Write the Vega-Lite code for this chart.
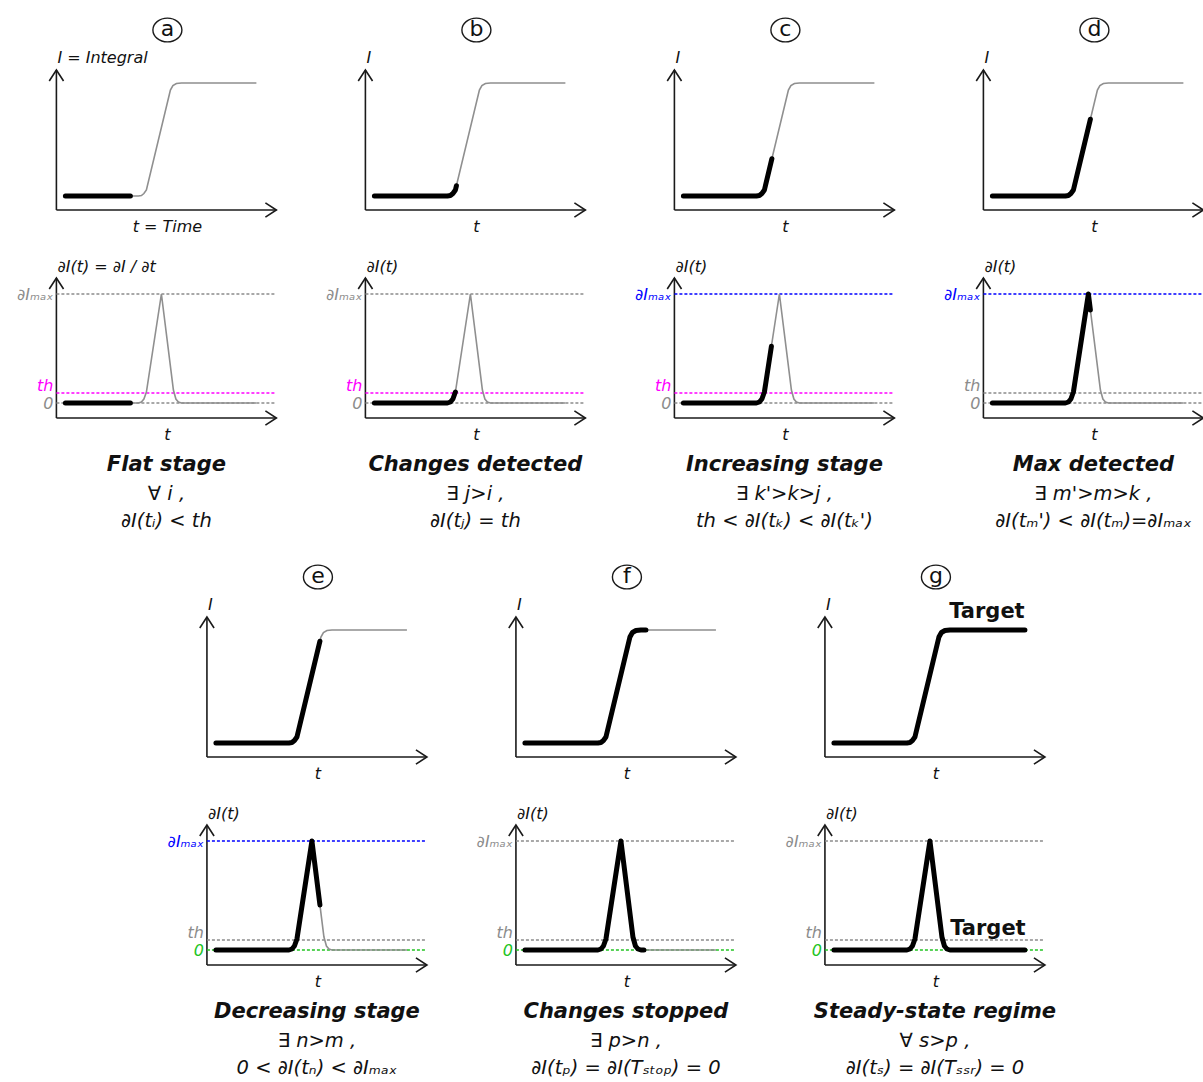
{
  "$schema": "https://vega.github.io/schema/vega-lite/v6.json",
  "padding": {"left": 17, "top": 15, "right": 0, "bottom": 0},
  "background": "white",
  "config": {"view": {"stroke": null}, "axis": {"disable": true}, "font": "DejaVu Sans", "text": {"font": "DejaVu Sans", "color": "#111111"}},
  "datasets": {
    "integralPlot": [
      {"panel":"a","kind":"frame"},{"panel":"b","kind":"frame"},{"panel":"c","kind":"frame"},{"panel":"d","kind":"frame"},{"panel":"e","kind":"frame"},{"panel":"f","kind":"frame"},{"panel":"g","kind":"frame"},
      {"panel":"a","kind":"label","role":"y","text":"I = Integral"},{"panel":"a","kind":"label","role":"x","text":"t = Time"},
      {"panel":"b","kind":"label","role":"y","text":"I"},{"panel":"b","kind":"label","role":"x","text":"t"},
      {"panel":"c","kind":"label","role":"y","text":"I"},{"panel":"c","kind":"label","role":"x","text":"t"},
      {"panel":"d","kind":"label","role":"y","text":"I"},{"panel":"d","kind":"label","role":"x","text":"t"},
      {"panel":"e","kind":"label","role":"y","text":"I"},{"panel":"e","kind":"label","role":"x","text":"t"},
      {"panel":"f","kind":"label","role":"y","text":"I"},{"panel":"f","kind":"label","role":"x","text":"t"},
      {"panel":"g","kind":"label","role":"y","text":"I"},{"panel":"g","kind":"label","role":"x","text":"t"},
      {"panel":"g","kind":"label","role":"target","text":"Target"},

      {"panel":"a","kind":"curve","trace":"full","t":0.9,"I":1.4},{"panel":"a","kind":"curve","trace":"full","t":8.2,"I":1.4},{"panel":"a","kind":"curve","trace":"full","t":8.5,"I":1.45},{"panel":"a","kind":"curve","trace":"full","t":8.75,"I":1.65},{"panel":"a","kind":"curve","trace":"full","t":9.0,"I":2.0},{"panel":"a","kind":"curve","trace":"full","t":11.4,"I":12.0},{"panel":"a","kind":"curve","trace":"full","t":11.65,"I":12.45},{"panel":"a","kind":"curve","trace":"full","t":12.0,"I":12.65},{"panel":"a","kind":"curve","trace":"full","t":12.5,"I":12.7},{"panel":"a","kind":"curve","trace":"full","t":20,"I":12.7},
      {"panel":"b","kind":"curve","trace":"full","t":0.9,"I":1.4},{"panel":"b","kind":"curve","trace":"full","t":8.2,"I":1.4},{"panel":"b","kind":"curve","trace":"full","t":8.5,"I":1.45},{"panel":"b","kind":"curve","trace":"full","t":8.75,"I":1.65},{"panel":"b","kind":"curve","trace":"full","t":9.0,"I":2.0},{"panel":"b","kind":"curve","trace":"full","t":11.4,"I":12.0},{"panel":"b","kind":"curve","trace":"full","t":11.65,"I":12.45},{"panel":"b","kind":"curve","trace":"full","t":12.0,"I":12.65},{"panel":"b","kind":"curve","trace":"full","t":12.5,"I":12.7},{"panel":"b","kind":"curve","trace":"full","t":20,"I":12.7},
      {"panel":"c","kind":"curve","trace":"full","t":0.9,"I":1.4},{"panel":"c","kind":"curve","trace":"full","t":8.2,"I":1.4},{"panel":"c","kind":"curve","trace":"full","t":8.5,"I":1.45},{"panel":"c","kind":"curve","trace":"full","t":8.75,"I":1.65},{"panel":"c","kind":"curve","trace":"full","t":9.0,"I":2.0},{"panel":"c","kind":"curve","trace":"full","t":11.4,"I":12.0},{"panel":"c","kind":"curve","trace":"full","t":11.65,"I":12.45},{"panel":"c","kind":"curve","trace":"full","t":12.0,"I":12.65},{"panel":"c","kind":"curve","trace":"full","t":12.5,"I":12.7},{"panel":"c","kind":"curve","trace":"full","t":20,"I":12.7},
      {"panel":"d","kind":"curve","trace":"full","t":0.9,"I":1.4},{"panel":"d","kind":"curve","trace":"full","t":8.2,"I":1.4},{"panel":"d","kind":"curve","trace":"full","t":8.5,"I":1.45},{"panel":"d","kind":"curve","trace":"full","t":8.75,"I":1.65},{"panel":"d","kind":"curve","trace":"full","t":9.0,"I":2.0},{"panel":"d","kind":"curve","trace":"full","t":11.4,"I":12.0},{"panel":"d","kind":"curve","trace":"full","t":11.65,"I":12.45},{"panel":"d","kind":"curve","trace":"full","t":12.0,"I":12.65},{"panel":"d","kind":"curve","trace":"full","t":12.5,"I":12.7},{"panel":"d","kind":"curve","trace":"full","t":20,"I":12.7},
      {"panel":"e","kind":"curve","trace":"full","t":0.9,"I":1.4},{"panel":"e","kind":"curve","trace":"full","t":8.2,"I":1.4},{"panel":"e","kind":"curve","trace":"full","t":8.5,"I":1.45},{"panel":"e","kind":"curve","trace":"full","t":8.75,"I":1.65},{"panel":"e","kind":"curve","trace":"full","t":9.0,"I":2.0},{"panel":"e","kind":"curve","trace":"full","t":11.4,"I":12.0},{"panel":"e","kind":"curve","trace":"full","t":11.65,"I":12.45},{"panel":"e","kind":"curve","trace":"full","t":12.0,"I":12.65},{"panel":"e","kind":"curve","trace":"full","t":12.5,"I":12.7},{"panel":"e","kind":"curve","trace":"full","t":20,"I":12.7},
      {"panel":"f","kind":"curve","trace":"full","t":0.9,"I":1.4},{"panel":"f","kind":"curve","trace":"full","t":8.2,"I":1.4},{"panel":"f","kind":"curve","trace":"full","t":8.5,"I":1.45},{"panel":"f","kind":"curve","trace":"full","t":8.75,"I":1.65},{"panel":"f","kind":"curve","trace":"full","t":9.0,"I":2.0},{"panel":"f","kind":"curve","trace":"full","t":11.4,"I":12.0},{"panel":"f","kind":"curve","trace":"full","t":11.65,"I":12.45},{"panel":"f","kind":"curve","trace":"full","t":12.0,"I":12.65},{"panel":"f","kind":"curve","trace":"full","t":12.5,"I":12.7},{"panel":"f","kind":"curve","trace":"full","t":20,"I":12.7},
      {"panel":"g","kind":"curve","trace":"full","t":0.9,"I":1.4},{"panel":"g","kind":"curve","trace":"full","t":8.2,"I":1.4},{"panel":"g","kind":"curve","trace":"full","t":8.5,"I":1.45},{"panel":"g","kind":"curve","trace":"full","t":8.75,"I":1.65},{"panel":"g","kind":"curve","trace":"full","t":9.0,"I":2.0},{"panel":"g","kind":"curve","trace":"full","t":11.4,"I":12.0},{"panel":"g","kind":"curve","trace":"full","t":11.65,"I":12.45},{"panel":"g","kind":"curve","trace":"full","t":12.0,"I":12.65},{"panel":"g","kind":"curve","trace":"full","t":12.5,"I":12.7},{"panel":"g","kind":"curve","trace":"full","t":20,"I":12.7},

      {"panel":"a","kind":"curve","trace":"observed","t":0.9,"I":1.4},{"panel":"a","kind":"curve","trace":"observed","t":7.4,"I":1.4},
      {"panel":"b","kind":"curve","trace":"observed","t":0.9,"I":1.4},{"panel":"b","kind":"curve","trace":"observed","t":8.2,"I":1.4},{"panel":"b","kind":"curve","trace":"observed","t":8.5,"I":1.45},{"panel":"b","kind":"curve","trace":"observed","t":8.75,"I":1.65},{"panel":"b","kind":"curve","trace":"observed","t":9.0,"I":2.0},{"panel":"b","kind":"curve","trace":"observed","t":9.1,"I":2.42},
      {"panel":"c","kind":"curve","trace":"observed","t":0.9,"I":1.4},{"panel":"c","kind":"curve","trace":"observed","t":8.2,"I":1.4},{"panel":"c","kind":"curve","trace":"observed","t":8.5,"I":1.45},{"panel":"c","kind":"curve","trace":"observed","t":8.75,"I":1.65},{"panel":"c","kind":"curve","trace":"observed","t":9.0,"I":2.0},{"panel":"c","kind":"curve","trace":"observed","t":9.75,"I":5.13},
      {"panel":"d","kind":"curve","trace":"observed","t":0.9,"I":1.4},{"panel":"d","kind":"curve","trace":"observed","t":8.2,"I":1.4},{"panel":"d","kind":"curve","trace":"observed","t":8.5,"I":1.45},{"panel":"d","kind":"curve","trace":"observed","t":8.75,"I":1.65},{"panel":"d","kind":"curve","trace":"observed","t":9.0,"I":2.0},{"panel":"d","kind":"curve","trace":"observed","t":10.7,"I":9.08},
      {"panel":"e","kind":"curve","trace":"observed","t":0.9,"I":1.4},{"panel":"e","kind":"curve","trace":"observed","t":8.2,"I":1.4},{"panel":"e","kind":"curve","trace":"observed","t":8.5,"I":1.45},{"panel":"e","kind":"curve","trace":"observed","t":8.75,"I":1.65},{"panel":"e","kind":"curve","trace":"observed","t":9.0,"I":2.0},{"panel":"e","kind":"curve","trace":"observed","t":11.3,"I":11.58},
      {"panel":"f","kind":"curve","trace":"observed","t":0.9,"I":1.4},{"panel":"f","kind":"curve","trace":"observed","t":8.2,"I":1.4},{"panel":"f","kind":"curve","trace":"observed","t":8.5,"I":1.45},{"panel":"f","kind":"curve","trace":"observed","t":8.75,"I":1.65},{"panel":"f","kind":"curve","trace":"observed","t":9.0,"I":2.0},{"panel":"f","kind":"curve","trace":"observed","t":11.4,"I":12.0},{"panel":"f","kind":"curve","trace":"observed","t":11.65,"I":12.45},{"panel":"f","kind":"curve","trace":"observed","t":12.0,"I":12.65},{"panel":"f","kind":"curve","trace":"observed","t":12.5,"I":12.7},{"panel":"f","kind":"curve","trace":"observed","t":13.0,"I":12.7},
      {"panel":"g","kind":"curve","trace":"observed","t":0.9,"I":1.4},{"panel":"g","kind":"curve","trace":"observed","t":8.2,"I":1.4},{"panel":"g","kind":"curve","trace":"observed","t":8.5,"I":1.45},{"panel":"g","kind":"curve","trace":"observed","t":8.75,"I":1.65},{"panel":"g","kind":"curve","trace":"observed","t":9.0,"I":2.0},{"panel":"g","kind":"curve","trace":"observed","t":11.4,"I":12.0},{"panel":"g","kind":"curve","trace":"observed","t":11.65,"I":12.45},{"panel":"g","kind":"curve","trace":"observed","t":12.0,"I":12.65},{"panel":"g","kind":"curve","trace":"observed","t":12.5,"I":12.7},{"panel":"g","kind":"curve","trace":"observed","t":20,"I":12.7}
    ],
    "derivativePlot": [
      {"panel":"a","kind":"frame"},{"panel":"b","kind":"frame"},{"panel":"c","kind":"frame"},{"panel":"d","kind":"frame"},{"panel":"e","kind":"frame"},{"panel":"f","kind":"frame"},{"panel":"g","kind":"frame"},
      {"panel":"a","kind":"label","role":"y","text":"∂I(t) = ∂I / ∂t"},{"panel":"a","kind":"label","role":"x","text":"t"},
      {"panel":"b","kind":"label","role":"y","text":"∂I(t)"},{"panel":"b","kind":"label","role":"x","text":"t"},
      {"panel":"c","kind":"label","role":"y","text":"∂I(t)"},{"panel":"c","kind":"label","role":"x","text":"t"},
      {"panel":"d","kind":"label","role":"y","text":"∂I(t)"},{"panel":"d","kind":"label","role":"x","text":"t"},
      {"panel":"e","kind":"label","role":"y","text":"∂I(t)"},{"panel":"e","kind":"label","role":"x","text":"t"},
      {"panel":"f","kind":"label","role":"y","text":"∂I(t)"},{"panel":"f","kind":"label","role":"x","text":"t"},
      {"panel":"g","kind":"label","role":"y","text":"∂I(t)"},{"panel":"g","kind":"label","role":"x","text":"t"},
      {"panel":"g","kind":"label","role":"target","text":"Target"},
      {"panel":"a","kind":"label","role":"c1","text":"Flat stage"},{"panel":"a","kind":"label","role":"c2","text":"∀ i ,"},{"panel":"a","kind":"label","role":"c3","text":"∂I(tᵢ) < th"},
      {"panel":"b","kind":"label","role":"c1","text":"Changes detected"},{"panel":"b","kind":"label","role":"c2","text":"∃ j>i ,"},{"panel":"b","kind":"label","role":"c3","text":"∂I(tⱼ) = th"},
      {"panel":"c","kind":"label","role":"c1","text":"Increasing stage"},{"panel":"c","kind":"label","role":"c2","text":"∃ k'>k>j ,"},{"panel":"c","kind":"label","role":"c3","text":"th < ∂I(tₖ) < ∂I(tₖ')"},
      {"panel":"d","kind":"label","role":"c1","text":"Max detected"},{"panel":"d","kind":"label","role":"c2","text":"∃ m'>m>k ,"},{"panel":"d","kind":"label","role":"c3","text":"∂I(tₘ') < ∂I(tₘ)=∂Iₘₐₓ"},
      {"panel":"e","kind":"label","role":"c1","text":"Decreasing stage"},{"panel":"e","kind":"label","role":"c2","text":"∃ n>m ,"},{"panel":"e","kind":"label","role":"c3","text":"0 < ∂I(tₙ) < ∂Iₘₐₓ"},
      {"panel":"f","kind":"label","role":"c1","text":"Changes stopped"},{"panel":"f","kind":"label","role":"c2","text":"∃ p>n ,"},{"panel":"f","kind":"label","role":"c3","text":"∂I(tₚ) = ∂I(Tₛₜₒₚ) = 0"},
      {"panel":"g","kind":"label","role":"c1","text":"Steady-state regime"},{"panel":"g","kind":"label","role":"c2","text":"∀ s>p ,"},{"panel":"g","kind":"label","role":"c3","text":"∂I(tₛ) = ∂I(Tₛₛᵣ) =  0"},

      {"panel":"a","kind":"ref","ref":"max","level":12.4,"highlight":"none","text":"∂Iₘₐₓ"},{"panel":"a","kind":"ref","ref":"th","level":2.5,"highlight":"th","text":"th"},{"panel":"a","kind":"ref","ref":"zero","level":1.5,"highlight":"none","text":"0"},
      {"panel":"b","kind":"ref","ref":"max","level":12.4,"highlight":"none","text":"∂Iₘₐₓ"},{"panel":"b","kind":"ref","ref":"th","level":2.5,"highlight":"th","text":"th"},{"panel":"b","kind":"ref","ref":"zero","level":1.5,"highlight":"none","text":"0"},
      {"panel":"c","kind":"ref","ref":"max","level":12.4,"highlight":"max","text":"∂Iₘₐₓ"},{"panel":"c","kind":"ref","ref":"th","level":2.5,"highlight":"th","text":"th"},{"panel":"c","kind":"ref","ref":"zero","level":1.5,"highlight":"none","text":"0"},
      {"panel":"d","kind":"ref","ref":"max","level":12.4,"highlight":"max","text":"∂Iₘₐₓ"},{"panel":"d","kind":"ref","ref":"th","level":2.5,"highlight":"none","text":"th"},{"panel":"d","kind":"ref","ref":"zero","level":1.5,"highlight":"none","text":"0"},
      {"panel":"e","kind":"ref","ref":"max","level":12.4,"highlight":"max","text":"∂Iₘₐₓ"},{"panel":"e","kind":"ref","ref":"th","level":2.5,"highlight":"none","text":"th"},{"panel":"e","kind":"ref","ref":"zero","level":1.5,"highlight":"zero","text":"0"},
      {"panel":"f","kind":"ref","ref":"max","level":12.4,"highlight":"none","text":"∂Iₘₐₓ"},{"panel":"f","kind":"ref","ref":"th","level":2.5,"highlight":"none","text":"th"},{"panel":"f","kind":"ref","ref":"zero","level":1.5,"highlight":"zero","text":"0"},
      {"panel":"g","kind":"ref","ref":"max","level":12.4,"highlight":"none","text":"∂Iₘₐₓ"},{"panel":"g","kind":"ref","ref":"th","level":2.5,"highlight":"none","text":"th"},{"panel":"g","kind":"ref","ref":"zero","level":1.5,"highlight":"zero","text":"0"},

      {"panel":"a","kind":"curve","trace":"full","t":0.9,"dIdt":1.5},{"panel":"a","kind":"curve","trace":"full","t":8.2,"dIdt":1.5},{"panel":"a","kind":"curve","trace":"full","t":8.5,"dIdt":1.6},{"panel":"a","kind":"curve","trace":"full","t":8.75,"dIdt":1.9},{"panel":"a","kind":"curve","trace":"full","t":9.0,"dIdt":2.6},{"panel":"a","kind":"curve","trace":"full","t":10.5,"dIdt":12.4},{"panel":"a","kind":"curve","trace":"full","t":11.7,"dIdt":2.8},{"panel":"a","kind":"curve","trace":"full","t":11.95,"dIdt":1.9},{"panel":"a","kind":"curve","trace":"full","t":12.2,"dIdt":1.6},{"panel":"a","kind":"curve","trace":"full","t":12.5,"dIdt":1.5},{"panel":"a","kind":"curve","trace":"full","t":20,"dIdt":1.5},
      {"panel":"b","kind":"curve","trace":"full","t":0.9,"dIdt":1.5},{"panel":"b","kind":"curve","trace":"full","t":8.2,"dIdt":1.5},{"panel":"b","kind":"curve","trace":"full","t":8.5,"dIdt":1.6},{"panel":"b","kind":"curve","trace":"full","t":8.75,"dIdt":1.9},{"panel":"b","kind":"curve","trace":"full","t":9.0,"dIdt":2.6},{"panel":"b","kind":"curve","trace":"full","t":10.5,"dIdt":12.4},{"panel":"b","kind":"curve","trace":"full","t":11.7,"dIdt":2.8},{"panel":"b","kind":"curve","trace":"full","t":11.95,"dIdt":1.9},{"panel":"b","kind":"curve","trace":"full","t":12.2,"dIdt":1.6},{"panel":"b","kind":"curve","trace":"full","t":12.5,"dIdt":1.5},{"panel":"b","kind":"curve","trace":"full","t":20,"dIdt":1.5},
      {"panel":"c","kind":"curve","trace":"full","t":0.9,"dIdt":1.5},{"panel":"c","kind":"curve","trace":"full","t":8.2,"dIdt":1.5},{"panel":"c","kind":"curve","trace":"full","t":8.5,"dIdt":1.6},{"panel":"c","kind":"curve","trace":"full","t":8.75,"dIdt":1.9},{"panel":"c","kind":"curve","trace":"full","t":9.0,"dIdt":2.6},{"panel":"c","kind":"curve","trace":"full","t":10.5,"dIdt":12.4},{"panel":"c","kind":"curve","trace":"full","t":11.7,"dIdt":2.8},{"panel":"c","kind":"curve","trace":"full","t":11.95,"dIdt":1.9},{"panel":"c","kind":"curve","trace":"full","t":12.2,"dIdt":1.6},{"panel":"c","kind":"curve","trace":"full","t":12.5,"dIdt":1.5},{"panel":"c","kind":"curve","trace":"full","t":20,"dIdt":1.5},
      {"panel":"d","kind":"curve","trace":"full","t":0.9,"dIdt":1.5},{"panel":"d","kind":"curve","trace":"full","t":8.2,"dIdt":1.5},{"panel":"d","kind":"curve","trace":"full","t":8.5,"dIdt":1.6},{"panel":"d","kind":"curve","trace":"full","t":8.75,"dIdt":1.9},{"panel":"d","kind":"curve","trace":"full","t":9.0,"dIdt":2.6},{"panel":"d","kind":"curve","trace":"full","t":10.5,"dIdt":12.4},{"panel":"d","kind":"curve","trace":"full","t":11.7,"dIdt":2.8},{"panel":"d","kind":"curve","trace":"full","t":11.95,"dIdt":1.9},{"panel":"d","kind":"curve","trace":"full","t":12.2,"dIdt":1.6},{"panel":"d","kind":"curve","trace":"full","t":12.5,"dIdt":1.5},{"panel":"d","kind":"curve","trace":"full","t":20,"dIdt":1.5},
      {"panel":"e","kind":"curve","trace":"full","t":0.9,"dIdt":1.5},{"panel":"e","kind":"curve","trace":"full","t":8.2,"dIdt":1.5},{"panel":"e","kind":"curve","trace":"full","t":8.5,"dIdt":1.6},{"panel":"e","kind":"curve","trace":"full","t":8.75,"dIdt":1.9},{"panel":"e","kind":"curve","trace":"full","t":9.0,"dIdt":2.6},{"panel":"e","kind":"curve","trace":"full","t":10.5,"dIdt":12.4},{"panel":"e","kind":"curve","trace":"full","t":11.7,"dIdt":2.8},{"panel":"e","kind":"curve","trace":"full","t":11.95,"dIdt":1.9},{"panel":"e","kind":"curve","trace":"full","t":12.2,"dIdt":1.6},{"panel":"e","kind":"curve","trace":"full","t":12.5,"dIdt":1.5},{"panel":"e","kind":"curve","trace":"full","t":20,"dIdt":1.5},
      {"panel":"f","kind":"curve","trace":"full","t":0.9,"dIdt":1.5},{"panel":"f","kind":"curve","trace":"full","t":8.2,"dIdt":1.5},{"panel":"f","kind":"curve","trace":"full","t":8.5,"dIdt":1.6},{"panel":"f","kind":"curve","trace":"full","t":8.75,"dIdt":1.9},{"panel":"f","kind":"curve","trace":"full","t":9.0,"dIdt":2.6},{"panel":"f","kind":"curve","trace":"full","t":10.5,"dIdt":12.4},{"panel":"f","kind":"curve","trace":"full","t":11.7,"dIdt":2.8},{"panel":"f","kind":"curve","trace":"full","t":11.95,"dIdt":1.9},{"panel":"f","kind":"curve","trace":"full","t":12.2,"dIdt":1.6},{"panel":"f","kind":"curve","trace":"full","t":12.5,"dIdt":1.5},{"panel":"f","kind":"curve","trace":"full","t":20,"dIdt":1.5},
      {"panel":"g","kind":"curve","trace":"full","t":0.9,"dIdt":1.5},{"panel":"g","kind":"curve","trace":"full","t":8.2,"dIdt":1.5},{"panel":"g","kind":"curve","trace":"full","t":8.5,"dIdt":1.6},{"panel":"g","kind":"curve","trace":"full","t":8.75,"dIdt":1.9},{"panel":"g","kind":"curve","trace":"full","t":9.0,"dIdt":2.6},{"panel":"g","kind":"curve","trace":"full","t":10.5,"dIdt":12.4},{"panel":"g","kind":"curve","trace":"full","t":11.7,"dIdt":2.8},{"panel":"g","kind":"curve","trace":"full","t":11.95,"dIdt":1.9},{"panel":"g","kind":"curve","trace":"full","t":12.2,"dIdt":1.6},{"panel":"g","kind":"curve","trace":"full","t":12.5,"dIdt":1.5},{"panel":"g","kind":"curve","trace":"full","t":20,"dIdt":1.5},

      {"panel":"a","kind":"curve","trace":"observed","t":0.9,"dIdt":1.5},{"panel":"a","kind":"curve","trace":"observed","t":7.4,"dIdt":1.5},
      {"panel":"b","kind":"curve","trace":"observed","t":0.9,"dIdt":1.5},{"panel":"b","kind":"curve","trace":"observed","t":8.2,"dIdt":1.5},{"panel":"b","kind":"curve","trace":"observed","t":8.5,"dIdt":1.6},{"panel":"b","kind":"curve","trace":"observed","t":8.75,"dIdt":1.9},{"panel":"b","kind":"curve","trace":"observed","t":9.0,"dIdt":2.6},
      {"panel":"c","kind":"curve","trace":"observed","t":0.9,"dIdt":1.5},{"panel":"c","kind":"curve","trace":"observed","t":8.2,"dIdt":1.5},{"panel":"c","kind":"curve","trace":"observed","t":8.5,"dIdt":1.6},{"panel":"c","kind":"curve","trace":"observed","t":8.75,"dIdt":1.9},{"panel":"c","kind":"curve","trace":"observed","t":9.0,"dIdt":2.6},{"panel":"c","kind":"curve","trace":"observed","t":9.7,"dIdt":7.17},
      {"panel":"d","kind":"curve","trace":"observed","t":0.9,"dIdt":1.5},{"panel":"d","kind":"curve","trace":"observed","t":8.2,"dIdt":1.5},{"panel":"d","kind":"curve","trace":"observed","t":8.5,"dIdt":1.6},{"panel":"d","kind":"curve","trace":"observed","t":8.75,"dIdt":1.9},{"panel":"d","kind":"curve","trace":"observed","t":9.0,"dIdt":2.6},{"panel":"d","kind":"curve","trace":"observed","t":10.5,"dIdt":12.4},{"panel":"d","kind":"curve","trace":"observed","t":10.7,"dIdt":10.8},
      {"panel":"e","kind":"curve","trace":"observed","t":0.9,"dIdt":1.5},{"panel":"e","kind":"curve","trace":"observed","t":8.2,"dIdt":1.5},{"panel":"e","kind":"curve","trace":"observed","t":8.5,"dIdt":1.6},{"panel":"e","kind":"curve","trace":"observed","t":8.75,"dIdt":1.9},{"panel":"e","kind":"curve","trace":"observed","t":9.0,"dIdt":2.6},{"panel":"e","kind":"curve","trace":"observed","t":10.5,"dIdt":12.4},{"panel":"e","kind":"curve","trace":"observed","t":11.3,"dIdt":6.0},
      {"panel":"f","kind":"curve","trace":"observed","t":0.9,"dIdt":1.5},{"panel":"f","kind":"curve","trace":"observed","t":8.2,"dIdt":1.5},{"panel":"f","kind":"curve","trace":"observed","t":8.5,"dIdt":1.6},{"panel":"f","kind":"curve","trace":"observed","t":8.75,"dIdt":1.9},{"panel":"f","kind":"curve","trace":"observed","t":9.0,"dIdt":2.6},{"panel":"f","kind":"curve","trace":"observed","t":10.5,"dIdt":12.4},{"panel":"f","kind":"curve","trace":"observed","t":11.7,"dIdt":2.8},{"panel":"f","kind":"curve","trace":"observed","t":11.95,"dIdt":1.9},{"panel":"f","kind":"curve","trace":"observed","t":12.2,"dIdt":1.6},{"panel":"f","kind":"curve","trace":"observed","t":12.5,"dIdt":1.5},{"panel":"f","kind":"curve","trace":"observed","t":12.8,"dIdt":1.5},
      {"panel":"g","kind":"curve","trace":"observed","t":0.9,"dIdt":1.5},{"panel":"g","kind":"curve","trace":"observed","t":8.2,"dIdt":1.5},{"panel":"g","kind":"curve","trace":"observed","t":8.5,"dIdt":1.6},{"panel":"g","kind":"curve","trace":"observed","t":8.75,"dIdt":1.9},{"panel":"g","kind":"curve","trace":"observed","t":9.0,"dIdt":2.6},{"panel":"g","kind":"curve","trace":"observed","t":10.5,"dIdt":12.4},{"panel":"g","kind":"curve","trace":"observed","t":11.7,"dIdt":2.8},{"panel":"g","kind":"curve","trace":"observed","t":11.95,"dIdt":1.9},{"panel":"g","kind":"curve","trace":"observed","t":12.2,"dIdt":1.6},{"panel":"g","kind":"curve","trace":"observed","t":12.5,"dIdt":1.5},{"panel":"g","kind":"curve","trace":"observed","t":20,"dIdt":1.5}
    ]
  },
  "spacing": 31,
  "center": true,
  "vconcat": [
    {
      "spacing": 24,
      "vconcat": [
        {
          "data": {"name": "integralPlot"},
          "transform": [{"filter": {"field": "panel", "oneOf": ["a","b","c","d"]}}],
          "facet": {"column": {"field": "panel", "type": "nominal", "title": null, "header": {"labels": false, "title": null, "labelPadding": 0, "titlePadding": 0}}},
          "spacing": 89,
          "bounds": "flush",
          "spec": {
            "width": 220, "height": 140,
            "layer": [
              {"transform": [{"filter": "datum.kind === 'frame'"}], "mark": {"type": "rule", "color": "#1a1a1a", "strokeWidth": 1.6}, "encoding": {"x": {"datum": 0, "type": "quantitative", "scale": {"domain": [0,22], "nice": false}}, "y": {"datum": 0, "type": "quantitative", "scale": {"domain": [0,14], "nice": false}}, "y2": {"datum": 14}}},
              {"transform": [{"filter": "datum.kind === 'frame'"}], "mark": {"type": "rule", "color": "#1a1a1a", "strokeWidth": 1.6}, "encoding": {"x": {"datum": 0, "type": "quantitative"}, "x2": {"datum": 22}, "y": {"datum": 0, "type": "quantitative"}}},
              {"transform": [{"filter": "datum.kind === 'frame'"}], "mark": {"type": "point", "shape": "M-0.65,1L0,0L0.65,1", "size": 484, "filled": false, "color": "#1a1a1a", "strokeWidth": 1.6, "opacity": 1}, "encoding": {"x": {"datum": 0, "type": "quantitative"}, "y": {"datum": 14, "type": "quantitative"}}},
              {"transform": [{"filter": "datum.kind === 'frame'"}], "mark": {"type": "point", "shape": "M-1,-0.65L0,0L-1,0.65", "size": 484, "filled": false, "color": "#1a1a1a", "strokeWidth": 1.6, "opacity": 1}, "encoding": {"x": {"datum": 22, "type": "quantitative"}, "y": {"datum": 0, "type": "quantitative"}}},
              {"transform": [{"filter": "datum.kind === 'curve' && datum.trace === 'full'"}], "mark": {"type": "line", "color": "#8f8f8f", "strokeWidth": 1.6}, "encoding": {"x": {"field": "t", "type": "quantitative"}, "y": {"field": "I", "type": "quantitative"}}},
              {"transform": [{"filter": "datum.kind === 'curve' && datum.trace === 'observed'"}], "mark": {"type": "line", "color": "#000000", "strokeWidth": 5, "strokeCap": "round", "strokeJoin": "round"}, "encoding": {"x": {"field": "t", "type": "quantitative"}, "y": {"field": "I", "type": "quantitative"}}},
              {"transform": [{"filter": "datum.role === 'y'"}], "mark": {"type": "text", "align": "left", "baseline": "middle", "dx": 1, "fontSize": 16, "fontStyle": "italic"}, "encoding": {"x": {"datum": 0, "type": "quantitative"}, "y": {"datum": 15.2, "type": "quantitative"}, "text": {"field": "text"}}},
              {"transform": [{"filter": "datum.role === 'x'"}], "mark": {"type": "text", "align": "center", "baseline": "middle", "fontSize": 16, "fontStyle": "italic"}, "encoding": {"x": {"datum": 11.1, "type": "quantitative"}, "y": {"datum": -1.7, "type": "quantitative"}, "text": {"field": "text"}}},
              {"transform": [{"filter": "datum.kind === 'frame'"}], "mark": {"type": "point", "shape": "M-1,0C-1,-0.45 -0.552,-0.82 0,-0.82C0.552,-0.82 1,-0.45 1,0C1,0.45 0.552,0.82 0,0.82C-0.552,0.82 -1,0.45 -1,0Z", "size": 841, "filled": false, "color": "#1a1a1a", "strokeWidth": 1.4, "opacity": 1}, "encoding": {"x": {"datum": 11.1, "type": "quantitative"}, "y": {"datum": 18, "type": "quantitative"}}},
              {"transform": [{"filter": "datum.kind === 'frame'"}], "mark": {"type": "text", "align": "center", "baseline": "middle", "fontSize": 22, "dy": -1}, "encoding": {"x": {"datum": 11.1, "type": "quantitative"}, "y": {"datum": 18, "type": "quantitative"}, "text": {"field": "panel"}}},
              {"transform": [{"filter": "datum.role === 'target'"}], "mark": {"type": "text", "align": "center", "baseline": "middle", "fontSize": 21, "fontWeight": "bold"}, "encoding": {"x": {"datum": 16.2, "type": "quantitative"}, "y": {"datum": 14.5, "type": "quantitative"}, "text": {"field": "text"}}}
            ]
          }
        },
        {
          "data": {"name": "derivativePlot"},
          "transform": [{"filter": {"field": "panel", "oneOf": ["a","b","c","d"]}}],
          "facet": {"column": {"field": "panel", "type": "nominal", "title": null, "header": {"labels": false, "title": null, "labelPadding": 0, "titlePadding": 0}}},
          "spacing": 89,
          "bounds": "flush",
          "spec": {
            "width": 220, "height": 140,
            "layer": [
              {"transform": [{"filter": "datum.kind === 'frame'"}], "mark": {"type": "rule", "color": "#1a1a1a", "strokeWidth": 1.6}, "encoding": {"x": {"datum": 0, "type": "quantitative", "scale": {"domain": [0,22], "nice": false}}, "y": {"datum": 0, "type": "quantitative", "scale": {"domain": [0,14], "nice": false}}, "y2": {"datum": 14}}},
              {"transform": [{"filter": "datum.kind === 'frame'"}], "mark": {"type": "rule", "color": "#1a1a1a", "strokeWidth": 1.6}, "encoding": {"x": {"datum": 0, "type": "quantitative"}, "x2": {"datum": 22}, "y": {"datum": 0, "type": "quantitative"}}},
              {"transform": [{"filter": "datum.kind === 'frame'"}], "mark": {"type": "point", "shape": "M-0.65,1L0,0L0.65,1", "size": 484, "filled": false, "color": "#1a1a1a", "strokeWidth": 1.6, "opacity": 1}, "encoding": {"x": {"datum": 0, "type": "quantitative"}, "y": {"datum": 14, "type": "quantitative"}}},
              {"transform": [{"filter": "datum.kind === 'frame'"}], "mark": {"type": "point", "shape": "M-1,-0.65L0,0L-1,0.65", "size": 484, "filled": false, "color": "#1a1a1a", "strokeWidth": 1.6, "opacity": 1}, "encoding": {"x": {"datum": 22, "type": "quantitative"}, "y": {"datum": 0, "type": "quantitative"}}},
              {"transform": [{"filter": "datum.kind === 'ref'"}], "mark": {"type": "rule", "strokeDash": [3,2], "strokeWidth": 1.3}, "encoding": {"x": {"datum": 0, "type": "quantitative"}, "x2": {"datum": 22}, "y": {"field": "level", "type": "quantitative"}, "color": {"field": "highlight", "type": "nominal", "scale": {"domain": ["none","th","max","zero"], "range": ["#8c8c8c","#ff00ff","#0000ff","#22c422"]}, "legend": null}}},
              {"transform": [{"filter": "datum.kind === 'ref' && datum.ref !== 'th'"}], "mark": {"type": "text", "align": "right", "baseline": "middle", "dx": -3, "dy": 1, "fontSize": 16, "fontStyle": "italic"}, "encoding": {"x": {"datum": 0, "type": "quantitative"}, "y": {"field": "level", "type": "quantitative"}, "text": {"field": "text"}, "color": {"field": "highlight", "type": "nominal", "scale": {"domain": ["none","th","max","zero"], "range": ["#8c8c8c","#ff00ff","#0000ff","#22c422"]}, "legend": null}}},
              {"transform": [{"filter": "datum.kind === 'ref' && datum.ref === 'th'"}], "mark": {"type": "text", "align": "right", "baseline": "middle", "dx": -3, "dy": -7, "fontSize": 16, "fontStyle": "italic"}, "encoding": {"x": {"datum": 0, "type": "quantitative"}, "y": {"field": "level", "type": "quantitative"}, "text": {"field": "text"}, "color": {"field": "highlight", "type": "nominal", "scale": {"domain": ["none","th","max","zero"], "range": ["#8c8c8c","#ff00ff","#0000ff","#22c422"]}, "legend": null}}},
              {"transform": [{"filter": "datum.kind === 'curve' && datum.trace === 'full'"}], "mark": {"type": "line", "color": "#8f8f8f", "strokeWidth": 1.6}, "encoding": {"x": {"field": "t", "type": "quantitative"}, "y": {"field": "dIdt", "type": "quantitative"}}},
              {"transform": [{"filter": "datum.kind === 'curve' && datum.trace === 'observed'"}], "mark": {"type": "line", "color": "#000000", "strokeWidth": 5, "strokeCap": "round", "strokeJoin": "round"}, "encoding": {"x": {"field": "t", "type": "quantitative"}, "y": {"field": "dIdt", "type": "quantitative"}}},
              {"transform": [{"filter": "datum.role === 'y'"}], "mark": {"type": "text", "align": "left", "baseline": "middle", "dx": 1, "fontSize": 16, "fontStyle": "italic"}, "encoding": {"x": {"datum": 0, "type": "quantitative"}, "y": {"datum": 15.1, "type": "quantitative"}, "text": {"field": "text"}}},
              {"transform": [{"filter": "datum.role === 'x'"}], "mark": {"type": "text", "align": "center", "baseline": "middle", "fontSize": 16, "fontStyle": "italic"}, "encoding": {"x": {"datum": 11.1, "type": "quantitative"}, "y": {"datum": -1.7, "type": "quantitative"}, "text": {"field": "text"}}},
              {"transform": [{"filter": "datum.role === 'c1'"}], "mark": {"type": "text", "align": "center", "baseline": "middle", "fontSize": 21, "fontWeight": "bold", "fontStyle": "italic"}, "encoding": {"x": {"datum": 11.0, "type": "quantitative"}, "y": {"datum": -4.7, "type": "quantitative"}, "text": {"field": "text"}}},
              {"transform": [{"filter": "datum.role === 'c2'"}], "mark": {"type": "text", "align": "center", "baseline": "middle", "fontSize": 19.5, "fontStyle": "italic"}, "encoding": {"x": {"datum": 11.0, "type": "quantitative"}, "y": {"datum": -7.6, "type": "quantitative"}, "text": {"field": "text"}}},
              {"transform": [{"filter": "datum.role === 'c3'"}], "mark": {"type": "text", "align": "center", "baseline": "middle", "fontSize": 19.5, "fontStyle": "italic"}, "encoding": {"x": {"datum": 11.0, "type": "quantitative"}, "y": {"datum": -10.3, "type": "quantitative"}, "text": {"field": "text"}}},
              {"transform": [{"filter": "datum.role === 'target'"}], "mark": {"type": "text", "align": "center", "baseline": "middle", "fontSize": 21, "fontWeight": "bold"}, "encoding": {"x": {"datum": 16.3, "type": "quantitative"}, "y": {"datum": 3.6, "type": "quantitative"}, "text": {"field": "text"}}}
            ]
          }
        }
      ]
    },
    {
      "spacing": 24,
      "vconcat": [
        {
          "data": {"name": "integralPlot"},
          "transform": [{"filter": {"field": "panel", "oneOf": ["e","f","g"]}}],
          "facet": {"column": {"field": "panel", "type": "nominal", "title": null, "header": {"labels": false, "title": null, "labelPadding": 0, "titlePadding": 0}}},
          "spacing": 89,
          "bounds": "flush",
          "spec": {
            "width": 220, "height": 140,
            "layer": [
              {"transform": [{"filter": "datum.kind === 'frame'"}], "mark": {"type": "rule", "color": "#1a1a1a", "strokeWidth": 1.6}, "encoding": {"x": {"datum": 0, "type": "quantitative", "scale": {"domain": [0,22], "nice": false}}, "y": {"datum": 0, "type": "quantitative", "scale": {"domain": [0,14], "nice": false}}, "y2": {"datum": 14}}},
              {"transform": [{"filter": "datum.kind === 'frame'"}], "mark": {"type": "rule", "color": "#1a1a1a", "strokeWidth": 1.6}, "encoding": {"x": {"datum": 0, "type": "quantitative"}, "x2": {"datum": 22}, "y": {"datum": 0, "type": "quantitative"}}},
              {"transform": [{"filter": "datum.kind === 'frame'"}], "mark": {"type": "point", "shape": "M-0.65,1L0,0L0.65,1", "size": 484, "filled": false, "color": "#1a1a1a", "strokeWidth": 1.6, "opacity": 1}, "encoding": {"x": {"datum": 0, "type": "quantitative"}, "y": {"datum": 14, "type": "quantitative"}}},
              {"transform": [{"filter": "datum.kind === 'frame'"}], "mark": {"type": "point", "shape": "M-1,-0.65L0,0L-1,0.65", "size": 484, "filled": false, "color": "#1a1a1a", "strokeWidth": 1.6, "opacity": 1}, "encoding": {"x": {"datum": 22, "type": "quantitative"}, "y": {"datum": 0, "type": "quantitative"}}},
              {"transform": [{"filter": "datum.kind === 'curve' && datum.trace === 'full'"}], "mark": {"type": "line", "color": "#8f8f8f", "strokeWidth": 1.6}, "encoding": {"x": {"field": "t", "type": "quantitative"}, "y": {"field": "I", "type": "quantitative"}}},
              {"transform": [{"filter": "datum.kind === 'curve' && datum.trace === 'observed'"}], "mark": {"type": "line", "color": "#000000", "strokeWidth": 5, "strokeCap": "round", "strokeJoin": "round"}, "encoding": {"x": {"field": "t", "type": "quantitative"}, "y": {"field": "I", "type": "quantitative"}}},
              {"transform": [{"filter": "datum.role === 'y'"}], "mark": {"type": "text", "align": "left", "baseline": "middle", "dx": 1, "fontSize": 16, "fontStyle": "italic"}, "encoding": {"x": {"datum": 0, "type": "quantitative"}, "y": {"datum": 15.2, "type": "quantitative"}, "text": {"field": "text"}}},
              {"transform": [{"filter": "datum.role === 'x'"}], "mark": {"type": "text", "align": "center", "baseline": "middle", "fontSize": 16, "fontStyle": "italic"}, "encoding": {"x": {"datum": 11.1, "type": "quantitative"}, "y": {"datum": -1.7, "type": "quantitative"}, "text": {"field": "text"}}},
              {"transform": [{"filter": "datum.kind === 'frame'"}], "mark": {"type": "point", "shape": "M-1,0C-1,-0.45 -0.552,-0.82 0,-0.82C0.552,-0.82 1,-0.45 1,0C1,0.45 0.552,0.82 0,0.82C-0.552,0.82 -1,0.45 -1,0Z", "size": 841, "filled": false, "color": "#1a1a1a", "strokeWidth": 1.4, "opacity": 1}, "encoding": {"x": {"datum": 11.1, "type": "quantitative"}, "y": {"datum": 18, "type": "quantitative"}}},
              {"transform": [{"filter": "datum.kind === 'frame'"}], "mark": {"type": "text", "align": "center", "baseline": "middle", "fontSize": 22, "dy": -1}, "encoding": {"x": {"datum": 11.1, "type": "quantitative"}, "y": {"datum": 18, "type": "quantitative"}, "text": {"field": "panel"}}},
              {"transform": [{"filter": "datum.role === 'target'"}], "mark": {"type": "text", "align": "center", "baseline": "middle", "fontSize": 21, "fontWeight": "bold"}, "encoding": {"x": {"datum": 16.2, "type": "quantitative"}, "y": {"datum": 14.5, "type": "quantitative"}, "text": {"field": "text"}}}
            ]
          }
        },
        {
          "data": {"name": "derivativePlot"},
          "transform": [{"filter": {"field": "panel", "oneOf": ["e","f","g"]}}],
          "facet": {"column": {"field": "panel", "type": "nominal", "title": null, "header": {"labels": false, "title": null, "labelPadding": 0, "titlePadding": 0}}},
          "spacing": 89,
          "bounds": "flush",
          "spec": {
            "width": 220, "height": 140,
            "layer": [
              {"transform": [{"filter": "datum.kind === 'frame'"}], "mark": {"type": "rule", "color": "#1a1a1a", "strokeWidth": 1.6}, "encoding": {"x": {"datum": 0, "type": "quantitative", "scale": {"domain": [0,22], "nice": false}}, "y": {"datum": 0, "type": "quantitative", "scale": {"domain": [0,14], "nice": false}}, "y2": {"datum": 14}}},
              {"transform": [{"filter": "datum.kind === 'frame'"}], "mark": {"type": "rule", "color": "#1a1a1a", "strokeWidth": 1.6}, "encoding": {"x": {"datum": 0, "type": "quantitative"}, "x2": {"datum": 22}, "y": {"datum": 0, "type": "quantitative"}}},
              {"transform": [{"filter": "datum.kind === 'frame'"}], "mark": {"type": "point", "shape": "M-0.65,1L0,0L0.65,1", "size": 484, "filled": false, "color": "#1a1a1a", "strokeWidth": 1.6, "opacity": 1}, "encoding": {"x": {"datum": 0, "type": "quantitative"}, "y": {"datum": 14, "type": "quantitative"}}},
              {"transform": [{"filter": "datum.kind === 'frame'"}], "mark": {"type": "point", "shape": "M-1,-0.65L0,0L-1,0.65", "size": 484, "filled": false, "color": "#1a1a1a", "strokeWidth": 1.6, "opacity": 1}, "encoding": {"x": {"datum": 22, "type": "quantitative"}, "y": {"datum": 0, "type": "quantitative"}}},
              {"transform": [{"filter": "datum.kind === 'ref'"}], "mark": {"type": "rule", "strokeDash": [3,2], "strokeWidth": 1.3}, "encoding": {"x": {"datum": 0, "type": "quantitative"}, "x2": {"datum": 22}, "y": {"field": "level", "type": "quantitative"}, "color": {"field": "highlight", "type": "nominal", "scale": {"domain": ["none","th","max","zero"], "range": ["#8c8c8c","#ff00ff","#0000ff","#22c422"]}, "legend": null}}},
              {"transform": [{"filter": "datum.kind === 'ref' && datum.ref !== 'th'"}], "mark": {"type": "text", "align": "right", "baseline": "middle", "dx": -3, "dy": 1, "fontSize": 16, "fontStyle": "italic"}, "encoding": {"x": {"datum": 0, "type": "quantitative"}, "y": {"field": "level", "type": "quantitative"}, "text": {"field": "text"}, "color": {"field": "highlight", "type": "nominal", "scale": {"domain": ["none","th","max","zero"], "range": ["#8c8c8c","#ff00ff","#0000ff","#22c422"]}, "legend": null}}},
              {"transform": [{"filter": "datum.kind === 'ref' && datum.ref === 'th'"}], "mark": {"type": "text", "align": "right", "baseline": "middle", "dx": -3, "dy": -7, "fontSize": 16, "fontStyle": "italic"}, "encoding": {"x": {"datum": 0, "type": "quantitative"}, "y": {"field": "level", "type": "quantitative"}, "text": {"field": "text"}, "color": {"field": "highlight", "type": "nominal", "scale": {"domain": ["none","th","max","zero"], "range": ["#8c8c8c","#ff00ff","#0000ff","#22c422"]}, "legend": null}}},
              {"transform": [{"filter": "datum.kind === 'curve' && datum.trace === 'full'"}], "mark": {"type": "line", "color": "#8f8f8f", "strokeWidth": 1.6}, "encoding": {"x": {"field": "t", "type": "quantitative"}, "y": {"field": "dIdt", "type": "quantitative"}}},
              {"transform": [{"filter": "datum.kind === 'curve' && datum.trace === 'observed'"}], "mark": {"type": "line", "color": "#000000", "strokeWidth": 5, "strokeCap": "round", "strokeJoin": "round"}, "encoding": {"x": {"field": "t", "type": "quantitative"}, "y": {"field": "dIdt", "type": "quantitative"}}},
              {"transform": [{"filter": "datum.role === 'y'"}], "mark": {"type": "text", "align": "left", "baseline": "middle", "dx": 1, "fontSize": 16, "fontStyle": "italic"}, "encoding": {"x": {"datum": 0, "type": "quantitative"}, "y": {"datum": 15.1, "type": "quantitative"}, "text": {"field": "text"}}},
              {"transform": [{"filter": "datum.role === 'x'"}], "mark": {"type": "text", "align": "center", "baseline": "middle", "fontSize": 16, "fontStyle": "italic"}, "encoding": {"x": {"datum": 11.1, "type": "quantitative"}, "y": {"datum": -1.7, "type": "quantitative"}, "text": {"field": "text"}}},
              {"transform": [{"filter": "datum.role === 'c1'"}], "mark": {"type": "text", "align": "center", "baseline": "middle", "fontSize": 21, "fontWeight": "bold", "fontStyle": "italic"}, "encoding": {"x": {"datum": 11.0, "type": "quantitative"}, "y": {"datum": -4.7, "type": "quantitative"}, "text": {"field": "text"}}},
              {"transform": [{"filter": "datum.role === 'c2'"}], "mark": {"type": "text", "align": "center", "baseline": "middle", "fontSize": 19.5, "fontStyle": "italic"}, "encoding": {"x": {"datum": 11.0, "type": "quantitative"}, "y": {"datum": -7.6, "type": "quantitative"}, "text": {"field": "text"}}},
              {"transform": [{"filter": "datum.role === 'c3'"}], "mark": {"type": "text", "align": "center", "baseline": "middle", "fontSize": 19.5, "fontStyle": "italic"}, "encoding": {"x": {"datum": 11.0, "type": "quantitative"}, "y": {"datum": -10.3, "type": "quantitative"}, "text": {"field": "text"}}},
              {"transform": [{"filter": "datum.role === 'target'"}], "mark": {"type": "text", "align": "center", "baseline": "middle", "fontSize": 21, "fontWeight": "bold"}, "encoding": {"x": {"datum": 16.3, "type": "quantitative"}, "y": {"datum": 3.6, "type": "quantitative"}, "text": {"field": "text"}}}
            ]
          }
        }
      ]
    }
  ]
}
